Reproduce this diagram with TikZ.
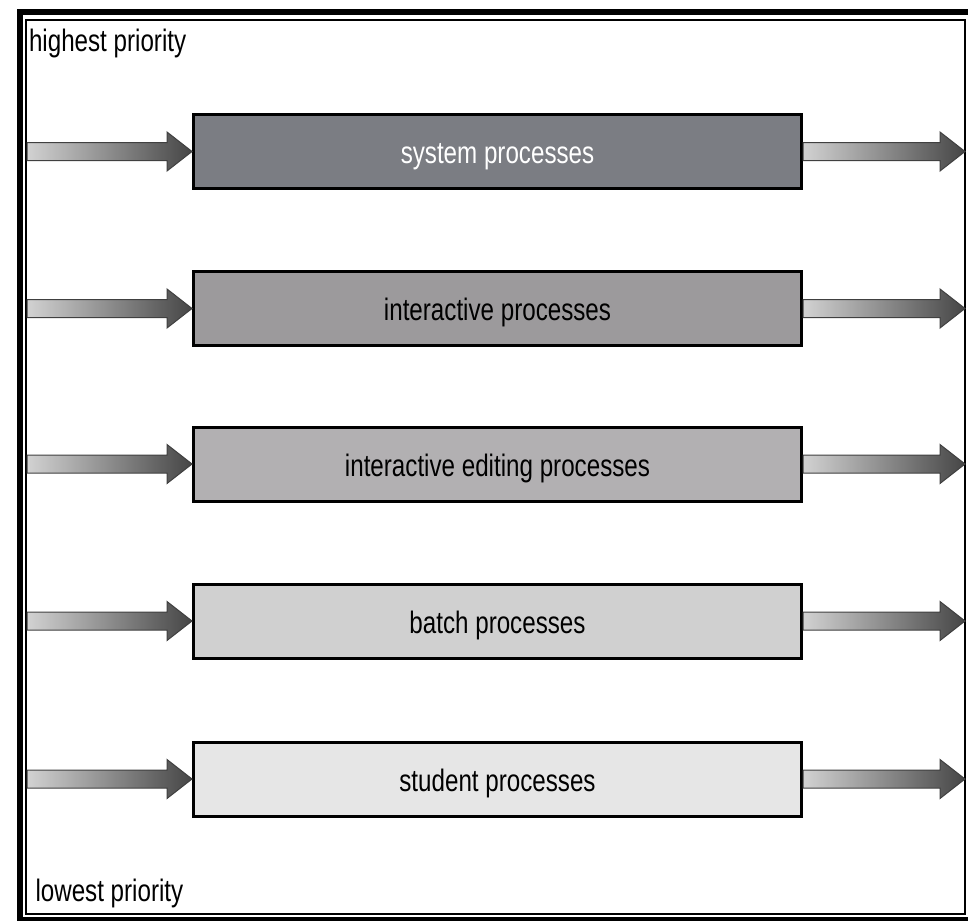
\documentclass[tikz,border=0pt]{standalone}
\usepackage{fontspec}
\setmainfont[FakeStretch=0.78]{Liberation Sans}
\usetikzlibrary{calc}

\definecolor{sysgray}{RGB}{123,125,131}
\definecolor{intergray}{RGB}{156,154,156}
\definecolor{editgray}{RGB}{178,176,178}
\definecolor{batchgray}{RGB}{208,208,208}
\definecolor{studentgray}{RGB}{230,230,230}
\definecolor{feedlight}{RGB}{210,210,210}
\definecolor{feeddark}{RGB}{70,70,70}
\definecolor{feededge}{RGB}{64,64,64}

\tikzset{every picture/.style={line width=0.75pt}}

\begin{document}
\begin{tikzpicture}[x=0.75pt,y=0.75pt,yscale=-1,xscale=1,
  queue/.style={draw=black, line width=2.25pt, minimum width=456pt, minimum height=55.5pt,
    inner sep=0pt, text height=18pt, text depth=0pt, font=\fontsize{23.25}{28}\selectfont},
  feed/.style={draw=feededge, line width=0.75pt, left color=feedlight, right color=feeddark},
  level/.style={anchor=base west, inner sep=0pt, font=\fontsize{23.25}{28}\selectfont}]
\useasboundingbox (0,0) rectangle (968,921);

%Shape: Frame
\draw [line width=4.5pt] (20,12) rectangle (980,919.5) ;
\draw [line width=1.1pt] (26,20) rectangle (965,914) ;

% Queue ends
\coordinate (in1) at (27,151.5) ;
\coordinate (in2) at (27,308.5) ;
\coordinate (in3) at (27,464) ;
\coordinate (in4) at (27,621) ;
\coordinate (in5) at (27,779) ;
\coordinate (out1) at (965,151.5) ;
\coordinate (out2) at (965,308.5) ;
\coordinate (out3) at (965,464) ;
\coordinate (out4) at (965,621) ;
\coordinate (out5) at (965,779) ;

%Shape: Queues
\node [queue, fill=sysgray, text=white] (sys) at (497.5,151.5) {system processes};
\node [queue, fill=intergray] (inter) at (497.5,308.5) {interactive processes};
\node [queue, fill=editgray] (edit) at (497.5,464) {interactive editing processes};
\node [queue, fill=batchgray] (batch) at (497.5,621) {batch processes};
\node [queue, fill=studentgray] (student) at (497.5,779) {student processes};

%Shape: Left Arrows
\shadedraw [feed] (sys.west) -- ++(-25,-19.5) -- ++(0,10.5) -- ($(in1)+(0,-9)$) -- ($(in1)+(0,9)$) -- ($(sys.west)+(-25,9)$) -- ++(0,10.5) -- cycle ;
\shadedraw [feed] (inter.west) -- ++(-25,-19.5) -- ++(0,10.5) -- ($(in2)+(0,-9)$) -- ($(in2)+(0,9)$) -- ($(inter.west)+(-25,9)$) -- ++(0,10.5) -- cycle ;
\shadedraw [feed] (edit.west) -- ++(-25,-19.5) -- ++(0,10.5) -- ($(in3)+(0,-9)$) -- ($(in3)+(0,9)$) -- ($(edit.west)+(-25,9)$) -- ++(0,10.5) -- cycle ;
\shadedraw [feed] (batch.west) -- ++(-25,-19.5) -- ++(0,10.5) -- ($(in4)+(0,-9)$) -- ($(in4)+(0,9)$) -- ($(batch.west)+(-25,9)$) -- ++(0,10.5) -- cycle ;
\shadedraw [feed] (student.west) -- ++(-25,-19.5) -- ++(0,10.5) -- ($(in5)+(0,-9)$) -- ($(in5)+(0,9)$) -- ($(student.west)+(-25,9)$) -- ++(0,10.5) -- cycle ;

%Shape: Right Arrows
\shadedraw [feed] ($(sys.east)+(0,-9)$) -- ($(out1)+(-25,-9)$) -- ++(0,-10.5) -- (out1) -- ($(out1)+(-25,19.5)$) -- ++(0,-10.5) -- ($(sys.east)+(0,9)$) -- cycle ;
\shadedraw [feed] ($(inter.east)+(0,-9)$) -- ($(out2)+(-25,-9)$) -- ++(0,-10.5) -- (out2) -- ($(out2)+(-25,19.5)$) -- ++(0,-10.5) -- ($(inter.east)+(0,9)$) -- cycle ;
\shadedraw [feed] ($(edit.east)+(0,-9)$) -- ($(out3)+(-25,-9)$) -- ++(0,-10.5) -- (out3) -- ($(out3)+(-25,19.5)$) -- ++(0,-10.5) -- ($(edit.east)+(0,9)$) -- cycle ;
\shadedraw [feed] ($(batch.east)+(0,-9)$) -- ($(out4)+(-25,-9)$) -- ++(0,-10.5) -- (out4) -- ($(out4)+(-25,19.5)$) -- ++(0,-10.5) -- ($(batch.east)+(0,9)$) -- cycle ;
\shadedraw [feed] ($(student.east)+(0,-9)$) -- ($(out5)+(-25,-9)$) -- ++(0,-10.5) -- (out5) -- ($(out5)+(-25,19.5)$) -- ++(0,-10.5) -- ($(student.east)+(0,9)$) -- cycle ;

% Text Node
\node [level] (high) at (28.5,51.7) {highest priority};
% Text Node
\node [level] (low) at (35,901.7) {lowest priority};

\end{tikzpicture}
\end{document}
